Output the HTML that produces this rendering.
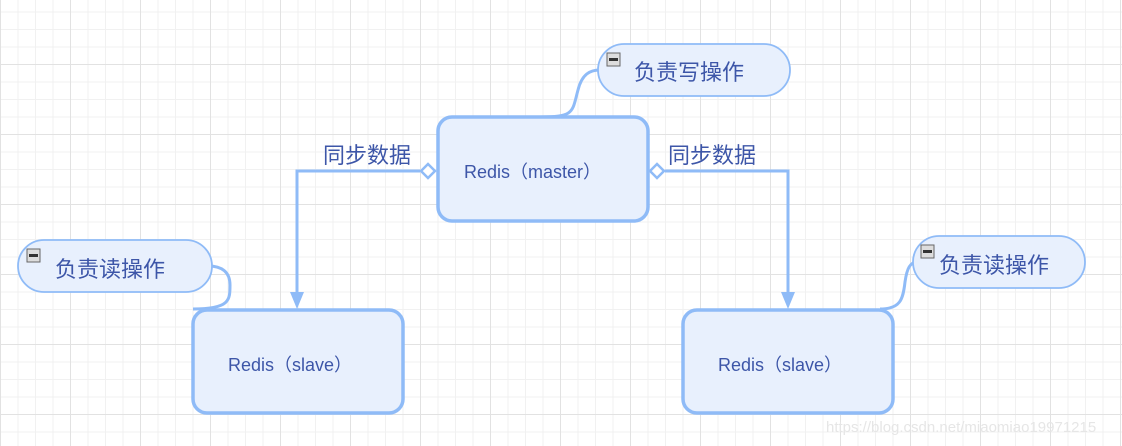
<!DOCTYPE html>
<html><head><meta charset="utf-8"><style>
html,body{margin:0;padding:0;width:1122px;height:446px;overflow:hidden;background:#fff}
</style></head><body>
<svg width="1122" height="446" xmlns="http://www.w3.org/2000/svg" font-family="'Liberation Sans','Noto Sans CJK SC',sans-serif">
<defs>
<pattern id="minor" x="0" y="11.5" width="17.5" height="17.5" patternUnits="userSpaceOnUse">
<path d="M0.5 0V17.5M0 0.5H17.5" stroke="#f1f1f1" stroke-width="1" fill="none"/>
</pattern>
<pattern id="major" x="0" y="64" width="70" height="70" patternUnits="userSpaceOnUse">
<path d="M0.5 0V70M0 0.5H70" stroke="#e2e2e2" stroke-width="1" fill="none"/>
</pattern>
</defs>
<rect width="1122" height="446" fill="url(#minor)"/>
<rect width="1122" height="446" fill="url(#major)"/>

<g stroke="#8fbbf7" stroke-width="3" fill="none">
<!-- connectors -->
<path d="M420 171H297V296"/>
<path d="M665 171H788V296"/>
<!-- callout curves -->
<path d="M540 117C575 117 572 112 578 90C582 74 590 70 600 70"/>
<path d="M193 309C230 309 230 300 230 285C230 272 222 266 208 266"/>
<path d="M880 309C900 309 903 300 905 282C907 268 910 262 918 262"/>
</g>
<!-- arrowheads -->
<path d="M290 292L297 309L304 292Z" fill="#8fbbf7"/>
<path d="M781 292L788 309L795 292Z" fill="#8fbbf7"/>
<!-- diamonds -->
<path d="M421 171L428 164L435 171L428 178Z" fill="#fff" stroke="#8fbbf7" stroke-width="2.5"/>
<path d="M650 171L657 164L664 171L657 178Z" fill="#fff" stroke="#8fbbf7" stroke-width="2.5"/>

<!-- boxes -->
<g fill="#e8f0fd" stroke="#8fbbf7" stroke-width="3.5">
<rect x="438" y="117" width="210" height="104" rx="14"/>
<rect x="193" y="310" width="210" height="103" rx="14"/>
<rect x="683" y="310" width="210" height="103" rx="14"/>
</g>
<g fill="#3d56a8" font-size="18">
<text x="464" y="178">Redis（master）</text>
<text x="228" y="371">Redis（slave）</text>
<text x="718" y="371">Redis（slave）</text>
</g>

<!-- callouts -->
<g fill="#e8f0fd" stroke="#8fbbf7" stroke-width="1.8">
<rect x="598" y="44" width="192" height="52" rx="26"/>
<rect x="18" y="240" width="194" height="52" rx="26"/>
<rect x="913" y="236" width="172" height="52" rx="26"/>
</g>
<g fill="#888" stroke="#666" stroke-width="1">
<rect x="607" y="53" width="13" height="13" fill="#ddd"/>
<rect x="27" y="249" width="13" height="13" fill="#ddd"/>
<rect x="921" y="245" width="13" height="13" fill="#ddd"/>
</g>
<g fill="#333"><rect x="609" y="58" width="9" height="3"/><rect x="29" y="254" width="9" height="3"/><rect x="923" y="250" width="9" height="3"/></g>
<g fill="#3d56a8" font-size="22">
<text x="634" y="80">负责写操作</text>
<text x="55" y="277">负责读操作</text>
<text x="939" y="273">负责读操作</text>
<text x="323" y="163">同步数据</text>
<text x="668" y="163">同步数据</text>
</g>
<text x="826" y="432" font-size="15" fill="#e6e6e6">https://blog.csdn.net/miaomiao19971215</text>
</svg>
</body></html>
